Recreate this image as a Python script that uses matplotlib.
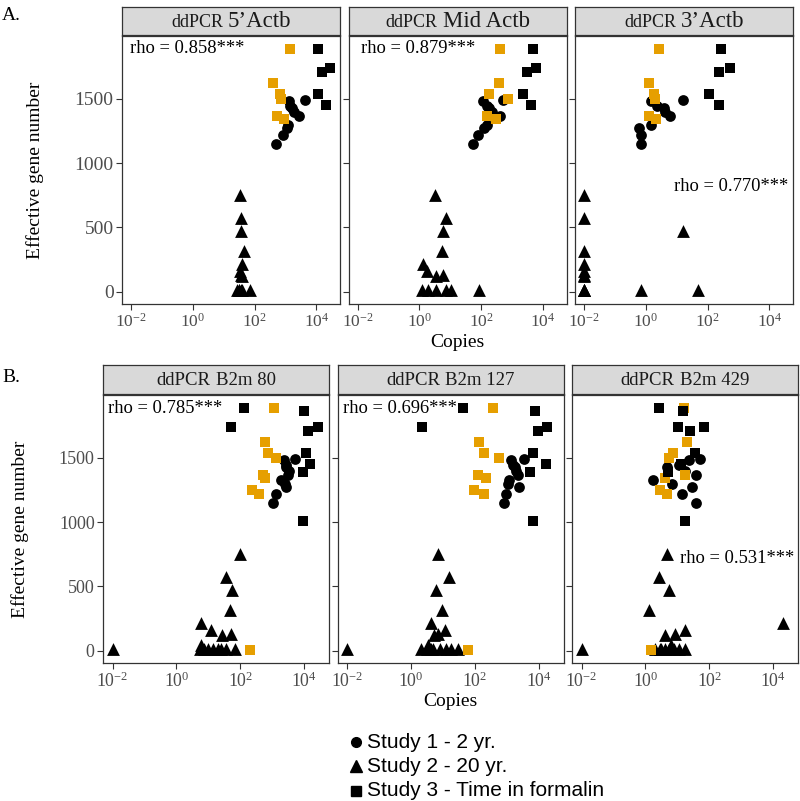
import numpy as np
import matplotlib.pyplot as plt
from matplotlib.lines import Line2D

plt.rcParams['font.family'] = ['Liberation Serif', 'DejaVu Serif']
plt.rcParams['mathtext.fontset'] = 'custom'
plt.rcParams['mathtext.rm'] = 'Liberation Serif'
plt.rcParams['mathtext.it'] = 'Liberation Serif:italic'

nan = np.nan

# Effective gene number per sample (shared by all six panels)
study1_y = [1490, 1480, 1445, 1430, 1400, 1368, 1330, 1300, 1272, 1220, 1145]
study2_y = [750, 577, 474, 319, 215, 165, 125, 128, 47, 16, 14, 12, 16, 15, 13, 14, 12, 10]
study3_orange_y = [1890, 1621, 1540, 1500, 1368, 1342, 1251, 1218, 5]
study3_black_y = [1890, 1860, 1743, 1738, 1705, 1536, 1455, 1393, 1005]

# log10(copies) per panel, nan = sample not in that panel
study1_x = {
    "A1": [3.65, 3.10, 3.14, 3.22, 3.28, 3.43, nan, 3.08, 3.05, 2.93, 2.71],
    "A2": [2.70, 2.05, 2.18, 2.25, 2.34, 2.61, nan, 2.18, 2.10, 1.91, 1.74],
    "A3": [1.21, 0.17, 0.35, 0.60, 0.63, 0.78, nan, 0.17, -0.21, -0.16, -0.16],
    "B1": [3.70, 3.38, 3.42, 3.44, 3.54, 3.51, 3.28, 3.40, 3.44, 3.12, 3.02],
    "B2": [3.53, 3.14, 3.19, 3.25, 3.30, 3.35, 3.08, 3.03, 3.40, 2.98, 2.93],
    "B3": [1.72, 1.36, 1.04, 0.67, 1.25, 1.57, 0.25, 0.83, 1.46, 1.14, 1.57],
}
study2_x = {
    "A1": [1.52, 1.57, 1.57, 1.65, 1.60, 1.52, 1.60, 1.55, nan, 1.43, 1.50, 1.55, 1.60, 1.84, 1.50, nan, nan, nan],
    "A2": [0.50, 0.86, 0.75, 0.72, 0.12, 0.25, 0.55, 0.77, nan, 0.07, 0.28, 0.55, 0.86, 1.04, 1.94, nan, nan, nan],
    "A3": [-2, -2, 1.19, -2, -2, -2, -2, -2, nan, -2, -2, -0.16, 1.68, -2, -2, nan, nan, nan],
    "B1": [1.98, 1.54, 1.75, 1.69, 0.78, 1.09, 1.44, 1.72, 0.78, -2.0, 0.73, 0.99, 1.30, 1.56, 1.85, 0.85, 1.15, 1.40],
    "B2": [0.86, 1.18, 0.78, 0.97, 0.62, 1.07, 0.73, 0.85, 0.55, -2.0, 0.31, 0.50, 0.70, 0.90, 1.10, 1.25, 1.46, 0.62],
    "B3": [0.67, 0.41, 0.73, 0.12, 4.31, 1.23, 0.62, 0.94, 0.80, -2.0, 0.31, 0.45, 0.60, 0.75, 0.90, 1.05, 1.25, 0.50],
}
study3_orange_x = {
    "A1": [3.16, 2.60, 2.84, 2.86, 2.73, 2.94, nan, nan, nan],
    "A2": [2.61, 2.57, 2.25, 2.88, 2.18, 2.50, nan, nan, nan],
    "A3": [0.41, 0.11, 0.27, 0.30, 0.11, 0.33, nan, nan, nan],
    "B1": [3.05, 2.76, 2.86, 3.12, 2.71, 2.78, 2.37, 2.58, 2.32],
    "B2": [2.58, 2.14, 2.30, 2.77, 2.09, 2.35, 1.98, 2.30, 1.80],
    "B3": [1.20, 1.30, 0.85, 0.73, 1.23, 0.62, 0.47, 0.67, 0.18],
}
study3_black_x = {
    "A1": [4.07, nan, nan, 4.46, 4.20, 4.07, 4.33, nan, nan],
    "A2": [3.67, nan, nan, 3.78, 3.48, 3.37, 3.62, nan, nan],
    "A3": [2.44, nan, nan, 2.73, 2.38, 2.04, 2.38, nan, nan],
    "B1": [2.13, 4.01, 1.72, 4.43, 4.11, 4.06, 4.17, 3.96, 3.98],
    "B2": [1.62, 3.89, 0.36, 4.26, 3.97, 3.82, 4.22, 3.74, 3.84],
    "B3": [0.44, 1.18, 1.01, 1.83, 1.39, 1.55, 1.10, 0.70, 1.23],
}

panel_titles = {"A1": ("ddPCR", "5’Actb"), "A2": ("ddPCR", "Mid Actb"), "A3": ("ddPCR", "3’Actb"),
                "B1": ("ddPCR", "B2m 80"), "B2": ("ddPCR", "B2m 127"), "B3": ("ddPCR", "B2m 429")}
rho_labels = {"A1": "rho = 0.858***", "A2": "rho = 0.879***", "A3": "rho = 0.770***",
              "B1": "rho = 0.785***", "B2": "rho = 0.696***", "B3": "rho = 0.531***"}
# label anchor (log10 copies, gene number), left aligned
rho_pos = {"A1": (-2.03, 1888), "A2": (-1.9, 1888), "A3": (0.90, 818),
           "B1": (-2.14, 1886), "B2": (-2.14, 1886), "B3": (1.09, 720)}

legend_labels = ["Study 1 - 2 yr.", "Study 2 - 20 yr.", "Study 3 - Time in formalin"]

ORANGE = "#E69F00"
DARK = "#333333"
TICKC = "#4D4D4D"

W, H = 800, 801
fig = plt.figure(figsize=(W / 100, H / 100), dpi=100)
renderer = fig.canvas.get_renderer()


def px_axes(l, t, r, b):
    return fig.add_axes([l / W, 1 - b / H, (r - l) / W, (b - t) / H])


rows = {
    "A": dict(top=36, bottom=304, lefts=[122, 348.5, 575], w=218.3, strip=7,
              xfs=12.5, yfs=14, tfs=(13, 16.5)),
    "B": dict(top=395, bottom=663, lefts=[103, 337.5, 572], w=226, strip=365,
              xfs=12.8, yfs=13, tfs=(13.5, 13.5)),
}

for row, cfg in rows.items():
    for i, l in enumerate(cfg["lefts"]):
        key = f"{row}{i + 1}"
        ax = px_axes(l, cfg["top"], l + cfg["w"], cfg["bottom"])
        ax.set_xscale("log")
        ax.scatter(10 ** np.array(study2_x[key]), study2_y, marker="^", s=85, c="black", lw=0)
        ax.scatter(10 ** np.array(study1_x[key]), study1_y, marker="o", s=60, c="black", lw=0)
        ax.scatter(10 ** np.array(study3_orange_x[key]), study3_orange_y, marker="s", s=55, c=ORANGE, lw=0)
        ax.scatter(10 ** np.array(study3_black_x[key]), study3_black_y, marker="s", s=55, c="black", lw=0)
        ax.set_xlim(10 ** -2.3, 10 ** 4.78)
        ax.set_ylim(-95, 1988)
        ax.set_xticks([1e-2, 1, 1e2, 1e4])
        ax.set_xticklabels([r"$\mathregular{10^{-2}}$", r"$\mathregular{10^{0}}$",
                            r"$\mathregular{10^{2}}$", r"$\mathregular{10^{4}}$"])
        ax.xaxis.set_minor_locator(plt.NullLocator())
        ax.set_yticks([0, 500, 1000, 1500])
        if i > 0:
            ax.set_yticklabels([])
        ax.tick_params(colors=DARK, labelcolor=TICKC, length=4, width=0.8, pad=2)
        ax.tick_params(axis="x", labelsize=cfg["xfs"])
        ax.tick_params(axis="y", labelsize=cfg["yfs"])
        for s in ax.spines.values():
            s.set_color(DARK)
            s.set_linewidth(0.9)
        rx, ry = rho_pos[key]
        ax.text(10 ** rx, ry, rho_labels[key], ha="left", va="center", fontsize=13.3, color="black")

        # facet strip, title in two sizes centred together
        sax = px_axes(l, cfg["strip"], l + cfg["w"], cfg["top"] - 1)
        sax.set_facecolor("#D9D9D9")
        sax.set_xticks([])
        sax.set_yticks([])
        for s in sax.spines.values():
            s.set_color(DARK)
            s.set_linewidth(0.9)
        t1, t2 = panel_titles[key]
        a = sax.text(0, 0.3, t1, ha="left", va="baseline", fontsize=cfg["tfs"][0], color="#1A1A1A")
        b = sax.text(0, 0.3, t2, ha="left", va="baseline", fontsize=cfg["tfs"][1], color="#1A1A1A")
        w1 = a.get_window_extent(renderer).width / cfg["w"]
        w2 = b.get_window_extent(renderer).width / cfg["w"]
        gap = 5 / cfg["w"]
        x0 = 0.5 - (w1 + gap + w2) / 2
        a.set_x(x0)
        b.set_x(x0 + w1 + gap)

    mid = (cfg["lefts"][0] + cfg["lefts"][2] + cfg["w"]) / 2
    fig.text(mid / W, 1 - (cfg["bottom"] + 39) / H, "Copies", ha="center", va="center", fontsize=14)

fig.text(35 / W, 1 - 170 / H, "Effective gene number", rotation=90, ha="center", va="center", fontsize=14)
fig.text(20 / W, 1 - 529 / H, "Effective gene number", rotation=90, ha="center", va="center", fontsize=14)
fig.text(2 / W, 1 - 16 / H, "A.", ha="left", va="center", fontsize=14)
fig.text(2 / W, 1 - 377 / H, "B.", ha="left", va="center", fontsize=14)

# legend drawn by hand
for j, (lab, m, ms) in enumerate(zip(legend_labels, ["o", "^", "s"], [7, 8.5, 7])):
    yy = 1 - (742 + j * 24.3) / H
    fig.add_artist(Line2D([355.5 / W], [yy], marker=m, ms=ms, color="black", ls="",
                          transform=fig.transFigure))
    fig.text(367 / W, yy, lab, ha="left", va="center", family="Liberation Sans", fontsize=15)

fig.savefig("out.png", dpi=100)
